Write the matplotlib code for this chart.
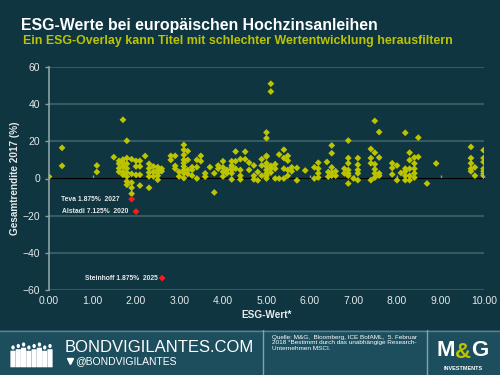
import numpy as np
import matplotlib
matplotlib.use("Agg")
import matplotlib.pyplot as plt
from matplotlib.patches import Rectangle, Ellipse, FancyBboxPatch

plt.rcParams['font.family'] = ['Liberation Sans', 'DejaVu Sans']

# ESG-Wert (x) columns and the Gesamtrendite 2017 values found at each column
esg_cols = [0.00, 0.30, 1.10, 1.49, 1.61, 1.70, 1.79, 1.90, 2.00, 2.09, 2.21, 2.30, 2.40,
            2.50, 2.59, 2.80, 2.90, 2.99, 3.10, 3.19, 3.29, 3.40, 3.49, 3.59, 3.70,
            3.80, 3.89, 4.00, 4.09, 4.20, 4.29, 4.40, 4.51, 4.60, 4.71, 4.80, 4.89,
            5.00, 5.10, 5.20, 5.29, 5.40, 5.49, 5.58, 5.70, 5.89, 6.10, 6.19, 6.39,
            6.42, 6.50, 6.59, 6.79, 6.88, 7.00, 7.10, 7.40, 7.49, 7.59, 7.89, 8.00,
            8.09, 8.19, 8.29, 8.40, 8.49, 8.69, 8.90, 9.70, 9.79, 9.99]
returns_by_col = [
    [1], [16.5, 6.8], [7, 3.5], [11.5],
    [9.5, 8, 5.5, 3.6],
    [31.6, 10.2, 8.6, 6.5, 3.6, 2.0],
    [20.3, 11, 7.9, 5.4, 3.2, 1.1, -1.6, -3.4],
    [10.4, 2.5, -2.2, -5.0, -8.2],
    [9.5, 6.5, 2.0],
    [9.5, 6.5, 2.0, -3.8],
    [12.1],
    [7.9, 5.4, 3.2, 1.1, -5.0],
    [6.5, 3.6, 1.1],
    [6.1, 4.7, 3.0, 1.5, -0.7],
    [5.3, 3.9],
    [12.2, 10],
    [12.2, 6.8, 5.3],
    [3.6, 1.1],
    [18.1, 15.4, 12.7, 10, 8.3, 6.5, 4.6, 2.8, 0.2],
    [14.7, 10, 4.6, 2.5],
    [6.1, 4.6, 1.5],
    [10, 6.1, 0],
    [12.2, 9.3],
    [2.8, 1.0],
    [6.1],
    [2.8, -7.5],
    [7, 5.3],
    [9.3, 6.0, 3.6, 1.1],
    [4.6, 2.8],
    [9.3, 7, 5.8, 4.6, 2.8, -0.5],
    [14.5, 9.3, 5.3],
    [10.4, 4.6, 1.5, -0.5],
    [14.4, 10.4],
    [8.5, 4.6],
    [7, 1.5, -0.5],
    [3.5, -1],
    [10.4, 7, 1.5],
    [24.8, 21.7, 12.2, 11.8, 8.2, 6.5, 4.6, 2.8, 1.5, 0.0],
    [51, 46.8, 6.8, 5.3, 3.2],
    [7.7, 5.3, 0],
    [12.9, 0],
    [15.5, 11, 5.3, 0],
    [12.2, 9.6, 4.6, 1.5],
    [6, 3.9],
    [5.7, -1],
    [4.3],
    [6, 0],
    [8.5, 5.3, 2.8, 0.5],
    [8.9],
    [3.5, 1],
    [17.8, 13.6, 6, 3.2, 1.5],
    [3.9, 1.5],
    [5.3, 2.8],
    [20.4, 11, 8.2, 4.6, 2.8, 1.5, -2.7],
    [0],
    [11, 7.4, 4.6, 2.8, -0.9],
    [15.9, 11, 8.2, -0.9],
    [31, 13.9, 7.7, 5, 2.8, 0.5],
    [25, 11.3, 2.8, 1.5],
    [8.2, 5.7, 2.2],
    [7, -0.9],
    [3],
    [24.6, 5.3, 3.9, 1.5, -0.9],
    [13.9, 9.9, 5.3, 1.5, -0.9],
    [11.3, 8.1, 5.3, 2.8, 0.5],
    [22, 11.6],
    [-2.7],
    [8.1],
    [17, 11, 8.2, 5.3, 3.9],
    [6, 1.5],
    [15.2, 11, 8.9, 5.3, 3.9, 2.5, 1.5],
]

# highlighted bonds
hl_names = ["Teva 1.875%  2027", "Alstadi 7.125%  2020", "Steinhoff 1.875%  2025"]
hl_esg = [1.90, 2.00, 2.60]
hl_ret = [-11.1, -17.8, -53.6]
hl_label_x = [0.28, 0.29, 0.83]   # where each label starts (ESG units)

x_ticks = np.arange(0, 11, 1)
y_ticks = [-60, -40, -20, 0, 20, 40, 60]

BG = '#0f3540'
FOOT = '#1c4e5d'
LIME = '#bcc400'
GRID = '#355a62'
AXIS = '#8ea2a6'
TXT = '#e6e9ea'

esg = np.concatenate([[c] * len(r) for c, r in zip(esg_cols, returns_by_col)])
ret = np.concatenate(returns_by_col)

fig = plt.figure(figsize=(5, 3.75), dpi=100, facecolor=BG)
ax = fig.add_axes([0.098, 0.2267, 0.87, 0.5946])
ax.set_facecolor(BG)
ax.set_xlim(0, 10)
ax.set_ylim(-60, 60)

for yv in y_ticks:
    if yv != 0:
        ax.axhline(yv, color=GRID, lw=1.5, zorder=1)

ax.scatter(esg, ret, marker='D', s=12, color=LIME, edgecolors='none', zorder=3)
ax.scatter(hl_esg, hl_ret, marker='D', s=12, color='#ff1a1a', edgecolors='none', zorder=4)

for name, lx, yv in zip(hl_names, hl_label_x, hl_ret):
    ax.text(lx, yv, name, ha='left', va='center', fontsize=4.9,
            fontweight='bold', color=TXT)

for s in ['top', 'right', 'bottom']:
    ax.spines[s].set_visible(False)
ax.spines['left'].set_color(AXIS)
ax.spines['left'].set_linewidth(1.2)

ax.set_yticks(y_ticks)
ax.set_xticks(x_ticks)
ax.set_xticklabels([f"{v:.2f}" for v in x_ticks])
ax.tick_params(axis='y', colors=AXIS, length=3, width=1, labelcolor=TXT, labelsize=7.5)
ax.tick_params(axis='x', length=0, labelcolor=TXT, labelsize=7.5, pad=4)

# zero line with tick marks
zero = ax.secondary_xaxis(0.5)
zero.set_xticks(x_ticks)
zero.xaxis.set_ticklabels([])
zero.tick_params(length=2.5, width=1, colors=AXIS)
zero.spines['bottom'].set_color(AXIS)
zero.spines['bottom'].set_linewidth(1.5)

ax.set_ylabel("Gesamtrendite 2017 (%)", color=TXT, fontsize=7.2, fontweight='bold', labelpad=1.5)
ax.set_xlabel("ESG-Wert*", color=TXT, fontsize=7.2, fontweight='bold', labelpad=3)

fig.text(0.042, 0.921, "ESG-Werte bei europäischen Hochzinsanleihen", color='white',
         fontsize=11.4, fontweight='bold', va='baseline')
fig.text(0.046, 0.883, "Ein ESG-Overlay kann Titel mit schlechter Wertentwicklung herausfiltern",
         color=LIME, fontsize=8.9, fontweight='bold', va='baseline')

# footer
fa = fig.add_axes([0, 0, 1, 0.12])
fa.set_xlim(0, 500)
fa.set_ylim(0, 45)
fa.axis('off')
fa.add_patch(Rectangle((0, 0), 500, 45, color=FOOT))
fa.plot([0, 500], [44.5, 44.5], color='#5f7f87', lw=1)
fa.plot([263, 263], [0, 45], color='#8aa0a6', lw=1)
fa.plot([427, 427], [0, 45], color='#8aa0a6', lw=1)

# silhouettes of the team
for i, px in enumerate(np.linspace(13, 50, 8)):
    h = 22 + (i % 3) * 1.5
    fa.add_patch(FancyBboxPatch((px - 2.3, 8), 4.6, h - 6, boxstyle='round,pad=0.3',
                                color='white', lw=0))
    fa.add_patch(Ellipse((px, 8 + h - 2.5), 3.4, 4.2, color='white', lw=0))

fa.text(65, 28, "BONDVIGILANTES.COM", color='white', fontsize=12, va='center')
fa.plot([70], [14], marker='v', color='white', ms=4)
fa.text(75, 14, "@BONDVIGILANTES", color='white', fontsize=7.5, va='center')
fa.text(272, 40, "Quelle: M&G,  Bloomberg, ICE BofAML,  5. Februar\n"
                 "2018 *Bestimmt durch das unabhängige Research-\nUnternehmen MSCI.",
        color='white', fontsize=4.6, va='top', linespacing=1.1)

fa.text(437, 24, "M", color='white', fontsize=16, fontweight='bold', va='center')
fa.text(455, 22, "&", color=LIME, fontsize=16, fontweight='bold', va='center')
fa.text(471, 24, "G", color='white', fontsize=16, fontweight='bold', va='center')
fa.text(463, 7, "INVESTMENTS", color='white', fontsize=4, fontweight='bold', ha='center', va='center')

fig.savefig("out.png", dpi=100, facecolor=BG)
